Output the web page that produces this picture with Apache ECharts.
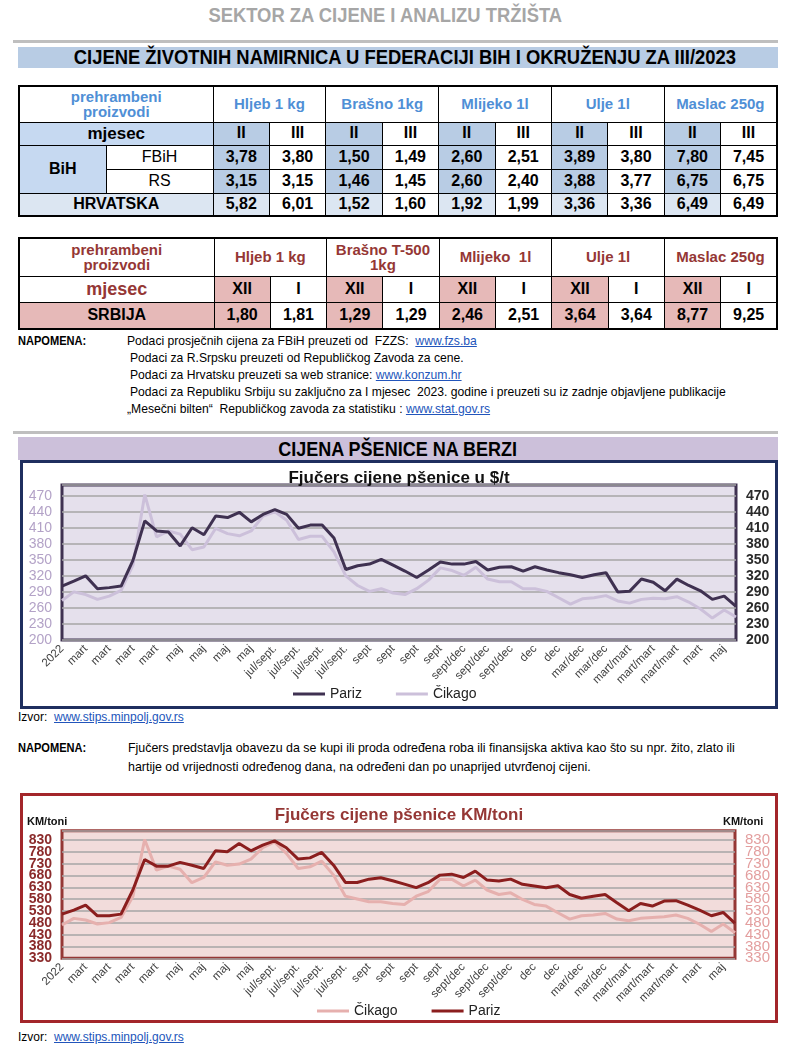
<!DOCTYPE html>
<html><head><meta charset="utf-8">
<script src="https://cdn.jsdelivr.net/npm/echarts@6.0.0/dist/echarts.min.js"></script>
<style>
body{margin:0;width:800px;height:1055px;background:#fff;position:relative;font-family:"Liberation Sans",Arial,sans-serif;overflow:hidden;color:#000}
.abs{position:absolute}
.nar{display:inline-block;transform:scaleX(0.92);white-space:nowrap}
.narl{display:inline-block;transform:scaleX(0.9);transform-origin:0 50%;white-space:nowrap}
.hr{position:absolute;left:13px;width:765px;height:3px;background:#bfbfbf}
table{border-collapse:collapse;position:absolute;table-layout:fixed;width:758px;left:18px}
td{border:1.5px solid #000;text-align:center;padding:0;font-weight:bold;font-size:16px;line-height:1.05}
a{color:#2255bb;text-decoration:underline}
.note{font-size:13.5px;white-space:nowrap}
</style></head>
<body>
<div class="abs" style="left:0;top:4px;width:770px;text-align:center;font-size:20px;font-weight:bold;color:#a6a6a6"><span class="nar">SEKTOR ZA CIJENE I ANALIZU TRŽIŠTA</span></div>
<div class="hr" style="top:40px"></div>
<div class="abs" style="left:18px;top:47px;width:760px;height:21px;background:#b8cce4"></div>
<div class="abs" style="left:25px;top:47px;width:760px;height:21px;text-align:center;font-size:20px;font-weight:bold;line-height:21px"><span class="nar">CIJENE ŽIVOTNIH NAMIRNICA U FEDERACIJI BIH I OKRUŽENJU ZA III/2023</span></div>

<table id="t1" style="top:85px"></table>
<table id="t2" style="top:237px"></table>

<div class="abs note" style="left:18px;top:333px;font-weight:bold"><span class="narl" style="transform:scaleX(0.82)">NAPOMENA:</span></div>
<div class="abs note" style="left:127px;top:333px"><span class="narl">Podaci prosječnih cijena za FBiH preuzeti od &nbsp;FZZS: &nbsp;<a>www.fzs.ba</a></span></div>
<div class="abs note" style="left:130px;top:350px"><span class="narl">Podaci za R.Srpsku preuzeti od Republičkog Zavoda za cene.</span></div>
<div class="abs note" style="left:130px;top:367px"><span class="narl">Podaci za Hrvatsku preuzeti sa web stranice: <a>www.konzum.hr</a></span></div>
<div class="abs note" style="left:130px;top:384px"><span class="narl">Podaci za Republiku Srbiju su zaključno za I mjesec &nbsp;2023. godine i preuzeti su iz zadnje objavljene publikacije</span></div>
<div class="abs note" style="left:127px;top:401px"><span class="narl">„Mesečni bilten“ &nbsp;Republičkog zavoda za statistiku : <a>www.stat.gov.rs</a></span></div>

<div class="hr" style="top:431px"></div>
<div class="abs" style="left:18px;top:437px;width:760px;height:23px;background:#ccc0da;text-align:center;font-size:20px;font-weight:bold;line-height:24px"><span class="nar" style="transform:scaleX(0.9)">CIJENA PŠENICE NA BERZI</span></div>

<div class="abs" style="left:20px;top:460px;width:752px;height:243px;border:3px solid #1f2f5f"><div id="c1" style="width:752px;height:243px"></div></div>

<div class="abs" style="left:18px;top:710px;font-size:12px">Izvor: &nbsp;<a>www.stips.minpolj.gov.rs</a></div>

<div class="abs note" style="left:18px;top:740px;font-weight:bold"><span class="narl" style="transform:scaleX(0.82)">NAPOMENA:</span></div>
<div class="abs note" style="left:128px;top:740px"><span class="narl" style="transform:scaleX(0.92)">Fjučers predstavlja obavezu da se kupi ili proda određena roba ili finansijska aktiva kao što su npr. žito, zlato ili</span></div>
<div class="abs note" style="left:128px;top:759px"><span class="narl" style="transform:scaleX(0.92)">hartije od vrijednosti određenog dana, na određeni dan po unaprijed utvrđenoj cijeni.</span></div>

<div class="abs" style="left:20px;top:793px;width:752px;height:224px;border:3px solid #a3262a"><div id="c2" style="width:752px;height:224px"></div></div>

<div class="abs" style="left:18px;top:1030px;font-size:12px">Izvor: &nbsp;<a>www.stips.minpolj.gov.rs</a></div>

<script>
// ---------- table data ----------
const products1 = ['Hljeb 1 kg','Brašno 1kg','Mlijeko 1l','Ulje 1l','Maslac 250g'];
const months1 = ['II','III'];
const fbihValues = [3.78,3.80,1.50,1.49,2.60,2.51,3.89,3.80,7.80,7.45];
const rsValues = [3.15,3.15,1.46,1.45,2.60,2.40,3.88,3.77,6.75,6.75];
const hrvValues = [5.82,6.01,1.52,1.60,1.92,1.99,3.36,3.36,6.49,6.49];
const products2 = ['Hljeb 1 kg','Brašno T-500 1kg','Mlijeko &nbsp;1l','Ulje 1l','Maslac 250g'];
const months2 = ['XII','I'];
const srbValues = [1.80,1.81,1.29,1.29,2.46,2.51,3.64,3.64,8.77,9.25];

// ---------- chart data ----------
const tickLabels = ['2022','mart','mart','mart','mart','maj','maj','maj','maj','jul/sept.','jul/sept.','jul/sept.','jul/sept.','sept','sept','sept','sept','sept/dec','sept/dec','sept/dec','dec','dec','mar/dec','mar/dec','mart/mart','mart/mart','mart/mart','mart','maj'];
const usdTicks = [200,230,260,290,320,350,380,410,440,470];
const kmTicks = [330,380,430,480,530,580,630,680,730,780,830];
const parizUsd = [301,310,320,296,298,301,349,423,404,402,376,410,397,432,429,439,421,435,444,435,409,415,415,391,332,339,342,351,340,329,317,331,346,342,342,347,331,336,337,329,337,331,326,322,317,322,326,290,291,314,308,292,314,302,292,276,282,263];
const cikagoUsd = [274,290,285,276,282,293,340,472,393,404,398,369,374,409,399,395,404,432,440,424,388,394,394,365,320,302,291,296,288,285,296,312,335,330,321,336,314,309,309,296,296,291,279,267,277,279,283,273,269,276,278,277,281,271,258,241,256,243];
const parizKm = [517,534,555,510,510,517,619,748,720,720,736,724,710,785,781,816,785,809,827,798,750,755,778,724,651,651,665,671,658,644,629,650,682,686,672,699,661,657,665,643,636,629,637,600,584,593,600,565,531,562,551,572,574,555,534,510,524,478];
const cikagoKm = [471,499,492,475,481,503,591,833,703,720,707,650,672,738,724,729,750,798,823,774,710,717,741,682,593,581,569,569,562,558,593,612,664,665,636,661,619,600,607,579,558,551,523,496,510,513,520,496,489,499,503,506,513,499,474,443,475,438];

const fmt = v => v.toFixed(2).replace('.', ',');

// ---------- table 1 ----------
(function(){
  const blueHdr = '#4f8fd6', c2 = '#b8cce4', c1 = '#c6d9f1', c3 = '#dce6f2';
  let h = '<colgroup><col style="width:87px"><col style="width:107px">' + '<col style="width:56.4px">'.repeat(10) + '</colgroup>';
  h += '<tr style="height:36px"><td colspan="2" style="color:'+blueHdr+';font-size:15px">prehrambeni<br>proizvodi</td>' +
       products1.map(p => '<td colspan="2" style="color:'+blueHdr+';font-size:15px">'+p+'</td>').join('') + '</tr>';
  h += '<tr style="height:23px"><td colspan="2" style="background:'+c1+';font-size:17px">mjesec</td>' +
       products1.map(() => months1.map((m,i) => '<td style="background:'+(i===0?c2:'#fff')+'">'+m+'</td>').join('')).join('') + '</tr>';
  const row = (vals, bg) => vals.map((v,i) => '<td style="background:'+(i%2===0?bg:'#fff')+'">'+fmt(v)+'</td>').join('');
  h += '<tr style="height:24px"><td rowspan="2" style="background:'+c1+'">BiH</td><td style="font-weight:normal">FBiH</td>' + row(fbihValues, c2) + '</tr>';
  h += '<tr style="height:24px"><td style="font-weight:normal">RS</td>' + row(rsValues, c2) + '</tr>';
  h += '<tr style="height:23px"><td colspan="2" style="background:'+c3+'">HRVATSKA</td>' + row(hrvValues, c3) + '</tr>';
  const t = document.getElementById('t1');
  t.innerHTML = h; t.style.border = '2px solid #000';
})();

// ---------- table 2 ----------
(function(){
  const red = '#953735', pink = '#e6b9b8';
  let h = '<colgroup><col style="width:195px">' + '<col style="width:56.3px">'.repeat(10) + '</colgroup>';
  h += '<tr style="height:38px"><td style="color:'+red+';font-size:15px">prehrambeni<br>proizvodi</td>' +
       products2.map(p => '<td colspan="2" style="color:'+red+';font-size:15px">'+p.replace('T-500 1kg','T-500<br>1kg')+'</td>').join('') + '</tr>';
  h += '<tr style="height:26px"><td style="color:'+red+';font-size:18px">mjesec</td>' +
       products2.map(() => months2.map((m,i) => '<td style="background:'+(i===0?pink:'#fff')+'">'+m+'</td>').join('')).join('') + '</tr>';
  h += '<tr style="height:27px"><td style="background:'+pink+'">SRBIJA</td>' +
       srbValues.map((v,i) => '<td style="background:'+(i%2===0?pink:'#fff')+'">'+fmt(v)+'</td>').join('') + '</tr>';
  const t = document.getElementById('t2');
  t.innerHTML = h; t.style.border = '2px solid #000';
})();

// ---------- charts ----------
const categories = tickLabels.flatMap(l => [l, l]);
const FONT = '"Liberation Sans", Arial, sans-serif';

function lineChart(el, o) {
  const chart = echarts.init(document.getElementById(el), null, {renderer: 'canvas'});
  const base = {type: 'value', min: o.min, max: o.max, axisLine: {show: false}, axisTick: {show: false}};
  // grid axis: split lines only
  const yAxes = [Object.assign({}, base, {position: 'left', interval: o.interval, axisLabel: {show: false},
                  splitLine: {show: true, lineStyle: {color: '#a6a6a6', width: 1.5}}})];
  // label axes: ticks split into alternating groups so ECharts keeps every label
  const evens = o.ticks.filter((v, i) => i % 2 === 0), odds = o.ticks.filter((v, i) => i % 2 === 1);
  [['left', o.leftLabel], ['right', o.rightLabel]].forEach(([pos, lab]) => {
    [evens, odds].forEach(vals => {
      yAxes.push(Object.assign({}, base, {position: pos, splitLine: {show: false},
        axisLabel: Object.assign({customValues: vals, fontFamily: FONT, margin: 10}, lab)}));
    });
  });
  chart.setOption({
    animation: false,
    textStyle: {fontFamily: FONT},
    title: {text: o.title, left: 'center', top: o.titleTop, textStyle: {fontSize: o.titleSize, fontWeight: 'bold', color: o.titleColor, fontFamily: FONT}},
    legend: {data: o.legend, left: o.legendLeft, top: o.legendTop, icon: 'rect', itemWidth: 32, itemHeight: 3, itemGap: 34,
             textStyle: {fontSize: 14, color: '#222', fontFamily: FONT}},
    grid: Object.assign({show: true, backgroundColor: o.plotBg, borderColor: o.plotBorder, borderWidth: 3}, o.grid),
    xAxis: {type: 'category', data: categories, boundaryGap: false,
            axisLine: {show: false}, axisTick: {show: false}, splitLine: {show: false},
            axisLabel: {interval: 1, rotate: 45, fontSize: 11.5, color: '#404040', margin: 7, fontFamily: FONT}},
    yAxis: yAxes,
    graphic: o.graphic || [],
    series: o.series.map(s => ({name: s.name, type: 'line', data: s.data, yAxisIndex: 0, symbol: 'none', z: s.z,
      lineStyle: {color: s.color, width: 3}, itemStyle: {color: s.color}}))
  });
}

lineChart('c1', {
  title: 'Fjučers cijene pšenice u $/t', titleTop: 2, titleSize: 17, titleColor: '#111',
  legend: ['Pariz', 'Čikago'], legendLeft: 265, legendTop: 219,
  plotBg: '#e5e0ec', plotBorder: '#3f3151',
  grid: {left: 39, right: 39, top: 22, bottom: 66},
  min: 200, max: 490, interval: 30, ticks: usdTicks,
  leftLabel: {color: '#b3a2c7', fontSize: 14},
  rightLabel: {color: '#2b2b2b', fontSize: 14, fontWeight: 'bold'},
  series: [
    {name: 'Pariz', data: parizUsd, color: '#3f3151', z: 3},
    {name: 'Čikago', data: cikagoUsd, color: '#ccc0da', z: 2}
  ]
});

lineChart('c2', {
  title: 'Fjučers cijene pšenice KM/toni', titleTop: 6, titleSize: 17, titleColor: '#953735',
  legend: ['Čikago', 'Pariz'], legendLeft: 289, legendTop: 203,
  plotBg: '#f2dcdb', plotBorder: '#953735',
  grid: {left: 39, right: 40, top: 34.7, bottom: 61.7},
  min: 330, max: 870, interval: 50, ticks: kmTicks,
  leftLabel: {color: '#8b2b2b', fontSize: 14, fontWeight: 'bold'},
  rightLabel: {color: '#e39e9e', fontSize: 15},
  graphic: [
    {type: 'text', left: 4, top: 20, style: {text: 'KM/toni', fontSize: 11, fontWeight: 'bold', fill: '#111', fontFamily: FONT}},
    {type: 'text', left: 700, top: 20, style: {text: 'KM/toni', fontSize: 11, fontWeight: 'bold', fill: '#111', fontFamily: FONT}}
  ],
  series: [
    {name: 'Čikago', data: cikagoKm, color: '#e6b0ae', z: 2},
    {name: 'Pariz', data: parizKm, color: '#8b1e1e', z: 3}
  ]
});
</script>
</body></html>
